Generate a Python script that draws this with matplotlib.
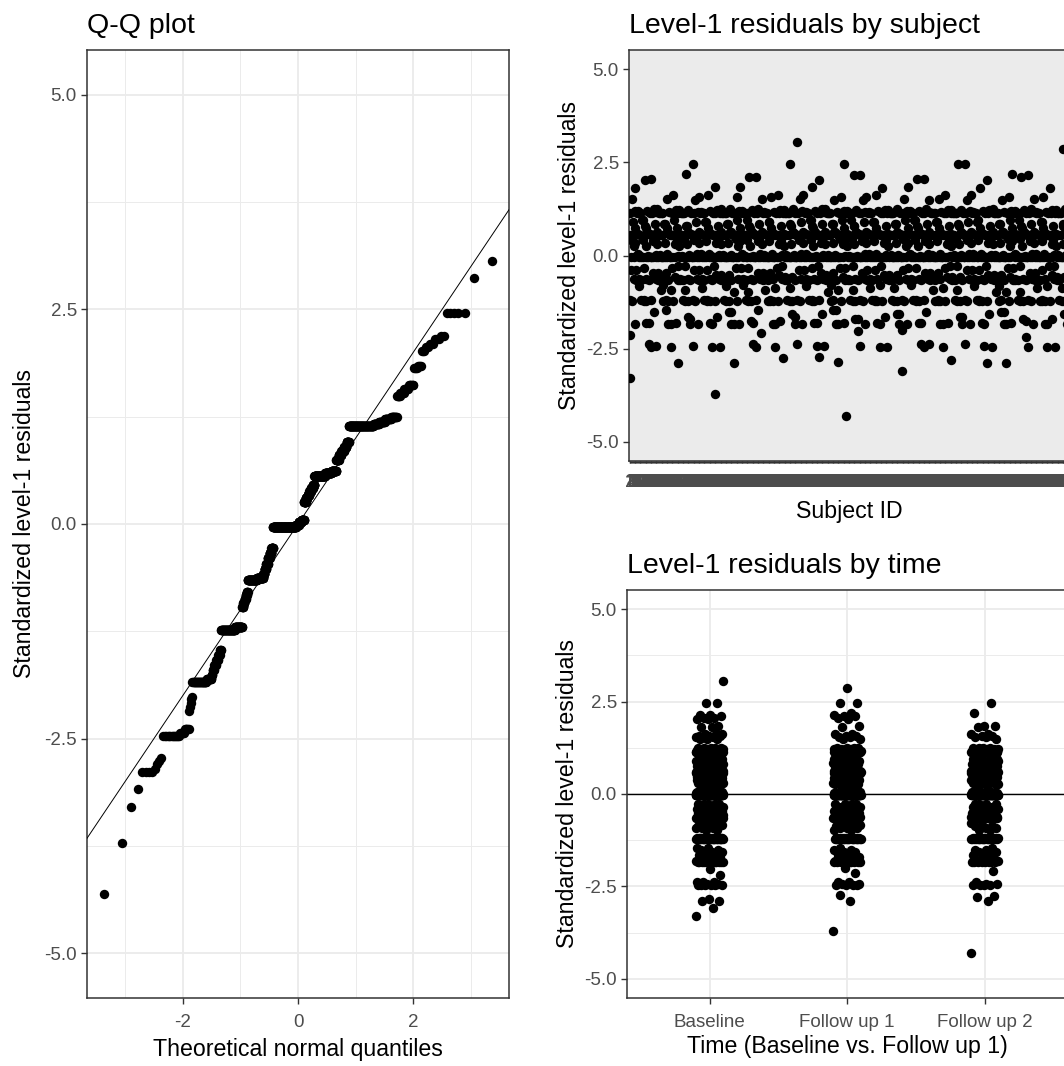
import matplotlib
matplotlib.use("Agg")
import matplotlib.pyplot as plt
import numpy as np
from statistics import NormalDist

plt.rcParams['font.family'] = ['Liberation Sans', 'DejaVu Sans']
plt.rcParams['axes.unicode_minus'] = False

# standardized level-1 residuals, read off the plots as value levels with
# how many observations sit at each level in every wave
time_labels = ["Baseline", "Follow up 1", "Follow up 2"]
resid_levels = [-4.31, -3.71, -3.30, -3.09, -2.89, -2.85, -2.80, -2.76, -2.72,
                -2.47, -2.43, -2.39, -2.18, -2.13, -2.08, -2.04, -2.01,
                -1.84, -1.81, -1.76, -1.70, -1.64, -1.58, -1.52, -1.47,
                -1.23, -1.20, -0.97, -0.92, -0.87, -0.83, -0.79,
                -0.65, -0.63, -0.58, -0.52, -0.46, -0.40, -0.34, -0.28,
                -0.04, -0.01, 0.02, 0.05, 0.26, 0.30, 0.34, 0.38, 0.42, 0.45,
                0.56, 0.59, 0.62, 0.75, 0.80, 0.85, 0.90, 0.96,
                1.14, 1.16, 1.19, 1.22, 1.25, 1.49, 1.53, 1.57, 1.62,
                1.82, 1.84, 2.02, 2.06, 2.10, 2.15, 2.19, 2.46, 2.86, 3.06]
baseline_counts = [0, 0, 1, 1, 2, 1, 0, 0, 0,
                   6, 2, 3, 1, 0, 0, 1, 0,
                   12, 6, 1, 2, 2, 3, 2, 2,
                   24, 15, 2, 3, 3, 3, 2,
                   24, 18, 4, 5, 6, 5, 6, 5,
                   80, 10, 10, 9, 6, 6, 7, 6, 6, 5,
                   36, 20, 14, 7, 7, 8, 6, 6,
                   48, 8, 7, 7, 5, 3, 3, 3, 3,
                   2, 1, 2, 2, 1, 2, 0, 2, 0, 1]
followup1_counts = [0, 1, 0, 0, 1, 0, 0, 0, 1,
                    4, 2, 2, 0, 1, 0, 0, 1,
                    10, 4, 1, 2, 2, 2, 2, 1,
                    19, 12, 2, 3, 3, 2, 2,
                    19, 15, 3, 4, 4, 5, 4, 4,
                    64, 8, 8, 7, 5, 5, 5, 5, 5, 4,
                    29, 16, 11, 6, 6, 5, 5, 5,
                    39, 6, 6, 5, 4, 2, 2, 2, 2,
                    1, 1, 1, 1, 2, 1, 1, 2, 1, 0]
followup2_counts = [1, 0, 0, 0, 1, 0, 1, 1, 0,
                    4, 2, 1, 0, 0, 1, 0, 0,
                    8, 4, 1, 1, 2, 2, 2, 1,
                    17, 11, 2, 2, 2, 1, 1,
                    17, 13, 3, 3, 4, 4, 4, 4,
                    56, 7, 7, 7, 4, 5, 4, 5, 4, 4,
                    25, 14, 10, 5, 5, 5, 5, 4,
                    34, 6, 5, 5, 4, 1, 2, 2, 2,
                    1, 2, 0, 0, 0, 0, 1, 1, 0, 0]

wave_resid = [np.repeat(resid_levels, c) for c in
              (baseline_counts, followup1_counts, followup2_counts)]
all_resid = np.sort(np.concatenate(wave_resid))
n = len(all_resid)
a = 0.5 if n > 10 else 3 / 8
theo = np.array([NormalDist().inv_cdf((i + 1 - a) / (n + 1 - 2 * a)) for i in range(n)])

n_subj = len(wave_resid[0])
subj_ids = [str(i) for i in range(1, n_subj + 1)]

grid_col = '#EBEBEB'
tick_col = '#4D4D4D'
edge_col = '#333333'
pt_size = 46
ylim = (-5.52, 5.52)
yt = [-5, -2.5, 0, 2.5, 5]
ytl = ['-5.0', '-2.5', '0.0', '2.5', '5.0']


def style(ax):
    for s in ax.spines.values():
        s.set_color(edge_col)
        s.set_linewidth(1.1)
    ax.tick_params(which='major', length=4.3, width=1.0, color=edge_col,
                   labelcolor=tick_col, labelsize=13.5, pad=3)
    ax.tick_params(axis='x', pad=7)
    ax.tick_params(which='minor', length=0)
    ax.set_ylim(*ylim)
    ax.set_yticks(yt)
    ax.set_yticklabels(ytl)
    ax.set_axisbelow(True)


fig = plt.figure(figsize=(10.64, 10.66), dpi=100)
W, H = 1064, 1066

# Q-Q plot
ax1 = fig.add_axes([87 / W, 1 - 998 / H, 422 / W, 948 / H])
style(ax1)
ax1.set_xlim(-3.66, 3.66)
ax1.set_xticks([-2, 0, 2])
ax1.set_xticks([-3, -1, 1, 3], minor=True)
ax1.set_yticks([-3.75, -1.25, 1.25, 3.75], minor=True)
ax1.grid(which='major', color=grid_col, lw=1.3)
ax1.grid(which='minor', color=grid_col, lw=0.7)
ax1.scatter(theo, all_resid, s=pt_size, color='black', linewidths=0, zorder=3)
ax1.axline((0, 0), slope=1, color='black', lw=0.7, zorder=4)
ax1.set_title("Q-Q plot", loc='left', fontsize=20.5, pad=12)
ax1.set_xlabel("Theoretical normal quantiles", fontsize=16.7, labelpad=5)
ax1.set_ylabel("Standardized level-1 residuals", fontsize=16.7, labelpad=6)

# residuals by subject
ax2 = fig.add_axes([629 / W, 1 - 461 / H, 440 / W, 411 / H])
style(ax2)
ax2.set_facecolor('#EBEBEB')
ax2.set_xlim(0.4, n_subj + 0.6)
ax2.axhline(0, color='black', lw=1.0, zorder=2)
offsets = [0, 101, 257]
for g, vals in enumerate(wave_resid):
    sx = (np.arange(len(vals)) * 323 + offsets[g]) % n_subj + 1
    ax2.scatter(sx, vals, s=pt_size, color='black', linewidths=0, zorder=3)
ax2.set_xticks(np.arange(1, n_subj + 1))
ax2.set_xticklabels(subj_ids)
ax2.tick_params(axis='x', length=1.5, labelsize=13.5, pad=8)
ax2.set_title("Level-1 residuals by subject", loc='left', fontsize=20.5, pad=12)
ax2.set_xlabel("Subject ID", fontsize=16.7, labelpad=6)
ax2.set_ylabel("Standardized level-1 residuals", fontsize=16.7, labelpad=4)

# residuals by time
ax3 = fig.add_axes([627 / W, 1 - 998 / H, 440 / W, 408 / H])
style(ax3)
ax3.set_xlim(0.4, len(time_labels) + 0.6)
ax3.set_xticks(np.arange(1, len(time_labels) + 1))
ax3.set_xticklabels(time_labels)
ax3.set_yticks([-3.75, -1.25, 1.25, 3.75], minor=True)
ax3.grid(which='major', color=grid_col, lw=1.3)
ax3.grid(which='minor', axis='y', color=grid_col, lw=0.7)
ax3.axhline(0, color='black', lw=1.0, zorder=2)
for g, vals in enumerate(wave_resid):
    jit = ((np.arange(len(vals)) * 0.6180339887) % 1.0 - 0.5) * 0.2
    ax3.scatter(g + 1 + jit, vals, s=pt_size, color='black', linewidths=0, zorder=3)
ax3.set_title("Level-1 residuals by time", loc='left', fontsize=20.5, pad=12)
ax3.set_xlabel("Time (Baseline vs. Follow up 1)", fontsize=16.7, labelpad=3)
ax3.set_ylabel("Standardized level-1 residuals", fontsize=16.7, labelpad=4)

fig.savefig("out.png", dpi=100)
